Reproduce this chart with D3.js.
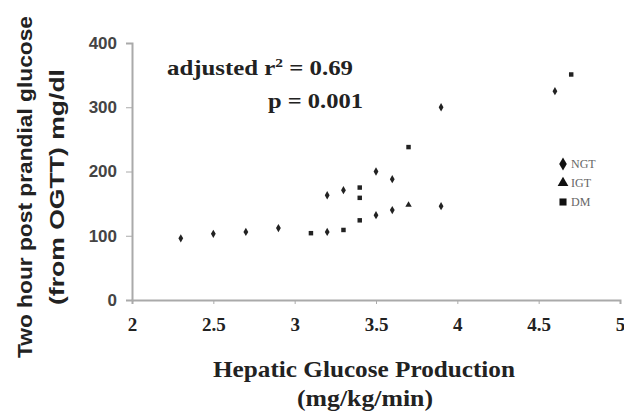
<!DOCTYPE html>
<html>
<head>
<meta charset="utf-8">
<script src="https://cdn.jsdelivr.net/npm/d3@7"></script>
<style>
  body { margin: 0; background: #fff; }
  .ytick text { font-family: "Liberation Sans", Arial, sans-serif; font-weight: bold; font-size: 17px; fill: #444; }
  .xtick text { font-family: "Liberation Serif", "Times New Roman", serif; font-weight: bold; font-size: 19px; fill: #222; }
  .axis path, .axis line { stroke: #aaa; }
</style>
</head>
<body>
<div id="chart"></div>
<script>
// data
const ngt = [
  { x: 2.3, y: 96 }, { x: 2.5, y: 103 }, { x: 2.7, y: 106 }, { x: 2.9, y: 112 },
  { x: 3.2, y: 106 }, { x: 3.5, y: 132 }, { x: 3.6, y: 140 }, { x: 3.9, y: 146 },
  { x: 3.2, y: 163 }, { x: 3.3, y: 171 }, { x: 3.5, y: 200 }, { x: 3.6, y: 188 },
  { x: 3.9, y: 300 }, { x: 4.6, y: 325 }
];
const igt = [
  { x: 3.7, y: 148 }
];
const dm = [
  { x: 3.1, y: 104 }, { x: 3.3, y: 109 }, { x: 3.4, y: 124 }, { x: 3.4, y: 159 },
  { x: 3.4, y: 175 }, { x: 3.7, y: 238 }, { x: 4.7, y: 351 }
];
const xTicks = [2, 2.5, 3, 3.5, 4, 4.5, 5];
const yTicks = [0, 100, 200, 300, 400];
const legendItems = ["NGT", "IGT", "DM"];

const width = 624, height = 414;
const margin = { top: 43, right: 4, bottom: 114, left: 132 };

const svg = d3.select("#chart").append("svg")
  .attr("width", width).attr("height", height);

const xScale = d3.scaleLinear().domain([2, 5]).range([margin.left, width - margin.right]);
const yScale = d3.scaleLinear().domain([0, 400]).range([height - margin.bottom, margin.top]);

// axes
svg.append("g")
  .attr("class", "axis xtick")
  .attr("transform", `translate(0,${yScale(0)})`)
  .call(d3.axisBottom(xScale).tickValues(xTicks).tickSize(4).tickPadding(14)
    .tickFormat(d3.format("")))
  .call(g => g.select(".domain").attr("stroke-width", 2));

svg.append("g")
  .attr("class", "axis ytick")
  .attr("transform", `translate(${xScale(2)},0)`)
  .call(d3.axisLeft(yScale).tickValues(yTicks).tickSize(6).tickPadding(9))
  .call(g => g.select(".domain").attr("stroke-width", 2));

const serif = "'Liberation Serif', 'Times New Roman', serif";

// axis titles
svg.append("text")
  .attr("x", 364).attr("y", 377)
  .attr("text-anchor", "middle")
  .attr("textLength", 302).attr("lengthAdjust", "spacingAndGlyphs")
  .style("font-family", serif)
  .style("font-weight", "bold").style("font-size", "24px").style("fill", "#222")
  .text("Hepatic Glucose Production");
svg.append("text")
  .attr("x", 365).attr("y", 406)
  .attr("text-anchor", "middle")
  .attr("textLength", 136).attr("lengthAdjust", "spacingAndGlyphs")
  .style("font-family", serif)
  .style("font-weight", "bold").style("font-size", "24px").style("fill", "#222")
  .text("(mg/kg/min)");

const yTitle = svg.append("text")
  .attr("transform", "translate(0,187)rotate(-90)")
  .attr("text-anchor", "middle")
  .style("font-family", "'Liberation Sans', Arial, sans-serif")
  .style("font-weight", "bold").style("font-size", "20px").style("fill", "#222");
yTitle.append("tspan").attr("x", 0).attr("y", 32)
  .attr("textLength", 342).attr("lengthAdjust", "spacingAndGlyphs")
  .text("Two hour post prandial glucose");
yTitle.append("tspan").attr("x", 0).attr("y", 64)
  .attr("textLength", 236).attr("lengthAdjust", "spacingAndGlyphs")
  .style("font-size", "21px")
  .text("(from OGTT) mg/dl");

// annotation
svg.append("text")
  .attr("x", 167).attr("y", 75)
  .attr("textLength", 186).attr("lengthAdjust", "spacingAndGlyphs")
  .style("font-family", serif)
  .style("font-weight", "bold").style("font-size", "21px").style("fill", "#222")
  .html('adjusted r<tspan dy="-8" font-size="13px">2</tspan><tspan dy="8"> = 0.69</tspan>');
svg.append("text")
  .attr("x", 268).attr("y", 108)
  .attr("textLength", 95).attr("lengthAdjust", "spacingAndGlyphs")
  .style("font-family", serif)
  .style("font-weight", "bold").style("font-size", "21px").style("fill", "#222")
  .text("p = 0.001");

// markers
const sym = {
  NGT: d3.symbol().type(d3.symbolDiamond).size(20),
  IGT: d3.symbol().type(d3.symbolTriangle).size(18),
  DM: d3.symbol().type(d3.symbolSquare).size(20)
};
const groups = [["NGT", ngt], ["IGT", igt], ["DM", dm]];
groups.forEach(([name, arr]) => {
  svg.append("g").selectAll("path")
    .data(arr)
    .enter()
    .append("path")
    .attr("d", sym[name])
    .attr("transform", d => `translate(${xScale(d.x)},${yScale(d.y)})`)
    .attr("fill", "#222");
});

// legend
const legend = svg.append("g").attr("transform", "translate(563,164)");
legendItems.forEach((name, i) => {
  const row = legend.append("g").attr("transform", `translate(0,${i * 19})`);
  row.append("path").attr("d", d3.symbol().type(
    name === "NGT" ? d3.symbolDiamond : name === "IGT" ? d3.symbolTriangle : d3.symbolSquare).size(50))
    .attr("fill", "#111");
  row.append("text").attr("x", 8).attr("y", 4)
    .style("font-family", serif)
    .style("font-size", "12px").style("fill", "#666")
    .text(name);
});
</script>
</body>
</html>
